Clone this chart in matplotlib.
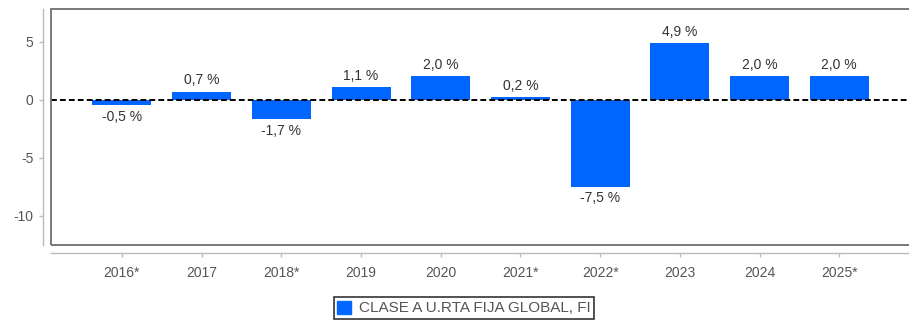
import matplotlib
matplotlib.use("Agg")
import matplotlib.pyplot as plt
from matplotlib.patches import Rectangle, Patch

plt.rcParams['font.family'] = ['Liberation Sans', 'DejaVu Sans']
plt.rcParams['axes.unicode_minus'] = False

years = ["2016*", "2017", "2018*", "2019", "2020", "2021*", "2022*", "2023", "2024", "2025*"]
returns = [-0.5, 0.7, -1.7, 1.1, 2.0, 0.2, -7.5, 4.9, 2.0, 2.0]
series_name = "CLASE A U.RTA FIJA GLOBAL, FI"
yticks = [5, 0, -5, -10]

bar_color = "#0066ff"
text_color = "#555555"

fig = plt.figure(figsize=(9.09, 3.22), dpi=100)
ax = fig.add_axes([51 / 909, 1 - 245 / 322, (911 - 51) / 909, (245 - 9) / 322])

x = list(range(len(years)))
ax.bar(x, returns, width=0.74, color=bar_color, zorder=2)
ax.axhline(0, color="black", linestyle=(0, (3.0, 1.6)), linewidth=1.4, zorder=3)

for xi, v in zip(x, returns):
    label = f"{v:.1f}".replace(".", ",") + " %"
    if v >= 0:
        ax.annotate(label, (xi, v), xytext=(0, 3), textcoords="offset points",
                    ha="center", va="bottom", fontsize=10, color="#333333")
    else:
        ax.annotate(label, (xi, v), xytext=(0, -3), textcoords="offset points",
                    ha="center", va="top", fontsize=10, color="#333333")

ax.set_xlim(-0.89, 9.9)
ax.set_ylim(-12.5, 7.8)
ax.set_xticks(x)
ax.set_xticklabels(years)
ax.set_yticks(yticks)

# detached axis lines on the left and bottom, with a framed plot box
for side in ("top", "right"):
    ax.spines[side].set_visible(False)
for side in ("left", "bottom"):
    ax.spines[side].set_position(("outward", 6))
    ax.spines[side].set_color("#bbbbbb")
    ax.spines[side].set_linewidth(1.0)
ax.add_patch(Rectangle((0, 0), 1, 1, transform=ax.transAxes, fill=False,
                       edgecolor="#6e6e6e", linewidth=1.3, clip_on=False, zorder=4))

ax.tick_params(axis="both", colors="#bbbbbb", labelcolor=text_color, labelsize=10,
               length=3, width=1.0)
ax.tick_params(axis="x", pad=6)

handle = Patch(facecolor=bar_color, edgecolor=bar_color)
leg = fig.legend([handle], [series_name], loc="upper center",
                 bbox_to_anchor=(464 / 909, 1 - 297 / 322), frameon=True,
                 fancybox=False, fontsize=11, handlelength=0.9, handleheight=0.9,
                 handletextpad=0.5, borderpad=0.25, borderaxespad=0.0)
leg.get_frame().set_edgecolor("black")
leg.get_frame().set_linewidth(1.2)
for t in leg.get_texts():
    t.set_color(text_color)

fig.savefig("out.png", dpi=100)
